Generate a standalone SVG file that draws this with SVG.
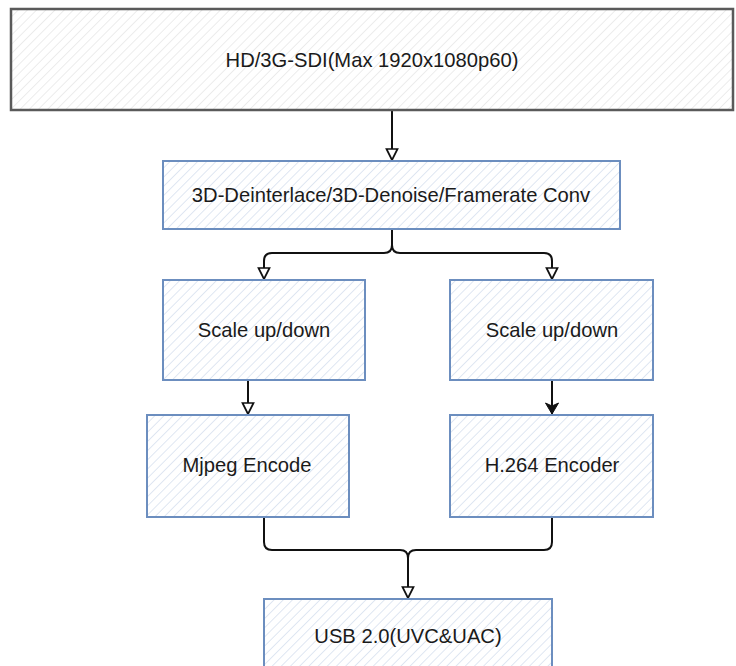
<svg xmlns="http://www.w3.org/2000/svg" width="736" height="666" viewBox="0 0 736 666">
<style>
.box{fill:url(#hb);stroke:#6c8ebf;stroke-width:2}
.gbox{fill:url(#hg);stroke:#5a5a5a;stroke-width:2.5}
.t{font-family:"Liberation Sans",Arial,sans-serif;font-size:20.2px;fill:#1a1a1a;text-anchor:middle;dominant-baseline:central}
.c{fill:none;stroke:#111;stroke-width:2}
</style>
<defs>
<pattern id="hb" width="6.5" height="6.5" patternUnits="userSpaceOnUse" patternTransform="rotate(45)">
<rect width="6.5" height="6.5" fill="#fff"/>
<line x1="0" y1="0" x2="0" y2="6.5" stroke="#cad7ea" stroke-width="1.2"/>
</pattern>
<pattern id="hg" width="6.5" height="6.5" patternUnits="userSpaceOnUse" patternTransform="rotate(45)">
<rect width="6.5" height="6.5" fill="#fff"/>
<line x1="0" y1="0" x2="0" y2="6.5" stroke="#e0e0e0" stroke-width="1.2"/>
</pattern>
<marker id="ao" markerWidth="14" markerHeight="14" refX="12" refY="7" orient="auto" markerUnits="userSpaceOnUse">
<path d="M1,1.5 L12,7 L1,12.5 Z" fill="#fff" stroke="#111" stroke-width="1.7"/>
</marker>
<marker id="af" markerWidth="14" markerHeight="16" refX="12" refY="8" orient="auto" markerUnits="userSpaceOnUse">
<path d="M1,1.5 L12,8 L1,14.5 L4,8 Z" fill="#111" stroke="#111" stroke-width="1"/>
</marker>
</defs>
<g id="connectors">
<path class="c" d="M392,110 V160" marker-end="url(#ao)"/>
<path class="c" d="M392,229 V245 Q392,253 384,253 H272 Q264,253 264,261 V279" marker-end="url(#ao)"/>
<path class="c" d="M392,245 Q392,253 400,253 H544 Q552,253 552,261 V279" marker-end="url(#ao)"/>
<path class="c" d="M248,380 V414" marker-end="url(#ao)"/>
<path class="c" d="M552,380 V414" marker-end="url(#af)"/>
<path class="c" d="M264,517 V542 Q264,550 272,550 H400 Q408,550 408,558 V598" marker-end="url(#ao)"/>
<path class="c" d="M552,517 V542 Q552,550 544,550 H416 Q408,550 408,558"/>
</g>
<g id="sdi">
<rect class="gbox" x="11" y="9" width="722" height="101"/>
<text class="t" x="372" y="60">HD/3G-SDI(Max 1920x1080p60)</text>
</g>
<g id="deint">
<rect class="box" x="163" y="161" width="457" height="68"/>
<text class="t" x="391" y="195">3D-Deinterlace/3D-Denoise/Framerate Conv</text>
</g>
<g id="scale1">
<rect class="box" x="163" y="280" width="202" height="100"/>
<text class="t" x="264" y="330">Scale up/down</text>
</g>
<g id="scale2">
<rect class="box" x="450" y="280" width="203" height="100"/>
<text class="t" x="552" y="330">Scale up/down</text>
</g>
<g id="mjpeg">
<rect class="box" x="147" y="415" width="202" height="102"/>
<text class="t" x="247" y="465">Mjpeg Encode</text>
</g>
<g id="h264">
<rect class="box" x="450" y="415" width="203" height="102"/>
<text class="t" x="552" y="465">H.264 Encoder</text>
</g>
<g id="usb">
<rect class="box" x="264" y="599" width="288" height="75"/>
<text class="t" x="408" y="636">USB 2.0(UVC&amp;UAC)</text>
</g>
</svg>
